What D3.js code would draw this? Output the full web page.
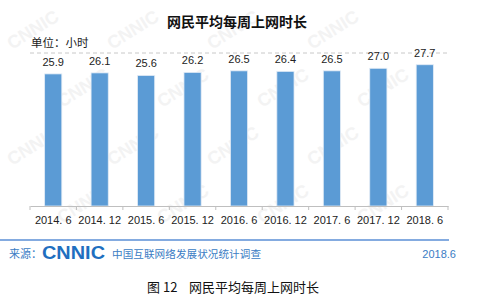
<!DOCTYPE html>
<html>
<head>
<meta charset="utf-8">
<script src="https://cdn.jsdelivr.net/npm/d3@7"></script>
<style>
  body { margin: 0; background: #fff; }
  svg { display: block; }
</style>
</head>
<body>
<svg width="479" height="296"></svg>
<script>
// data
var periods = ["2014. 6", "2014. 12", "2015. 6", "2015. 12", "2016. 6", "2016. 12", "2017. 6", "2017. 12", "2018. 6"];
var hours = [25.9, 26.1, 25.6, 26.2, 26.5, 26.4, 26.5, 27.0, 27.7];
var yMax = 30;

var svg = d3.select("svg");
var plotLeft = 30, plotRight = 448, plotTop = 53, plotBottom = 206;

// faint watermark, only where it fits inside the picture
var wm = svg.append("g");
for (var r = 0; r < 5; r++) {
    for (var c = 0; c < 5; c++) {
        var wx = c * 100 + (r % 2) * 50 + 12, wy = r * 58 + 50;
        if (wx > 400 || wy > 275) continue;
        wm.append("text")
            .attr("transform", "translate(" + wx + "," + wy + ") rotate(-32)")
            .attr("font-family", "Liberation Sans, Arial, sans-serif")
            .attr("font-weight", "bold")
            .attr("font-size", 18)
            .attr("fill", "#f3f3f3")
            .text("CNNIC");
    }
}

svg.append("text")
    .attr("x", 237).attr("y", 27)
    .attr("text-anchor", "middle")
    .attr("font-family", "Noto Sans CJK SC, sans-serif")
    .attr("font-weight", "bold")
    .attr("font-size", 14)
    .attr("fill", "#111")
    .text("网民平均每周上网时长");

svg.append("text")
    .attr("x", 31).attr("y", 47)
    .attr("font-family", "Noto Sans CJK SC, sans-serif")
    .attr("font-size", 11.5)
    .attr("fill", "#222")
    .text("单位：小时");

var x = d3.scaleBand().domain(periods).range([plotLeft, plotRight]).padding(0);
var y = d3.scaleLinear().domain([0, yMax]).range([plotBottom, plotTop]);

// top dashed grid line
svg.append("line")
    .attr("x1", plotLeft).attr("x2", plotRight)
    .attr("y1", y(yMax)).attr("y2", y(yMax))
    .attr("stroke", "#c8c8c8")
    .attr("stroke-dasharray", "4,3");

var bw = x.bandwidth() * 0.37;

var data = periods.map(function(p, i) { return {period: p, val: hours[i]}; });

svg.selectAll(".bar")
    .data(data)
    .enter()
    .append("rect")
    .attr("class", "bar")
    .attr("x", (d) => x(d.period) + (x.bandwidth() - bw) / 2)
    .attr("y", (d) => y(d.val))
    .attr("width", bw)
    .attr("height", (d) => plotBottom - y(d.val))
    .attr("fill", "#5b9bd5")
    .attr("stroke", "#e3ecf6")
    .attr("stroke-width", 0.8);

svg.selectAll(".lbl")
    .data(data)
    .enter()
    .append("text")
    .attr("class", "lbl")
    .attr("x", (d) => x(d.period) + x.bandwidth() / 2)
    .attr("y", (d) => y(d.val) - 8)
    .attr("text-anchor", "middle")
    .attr("font-family", "Liberation Sans, Arial, sans-serif")
    .attr("font-size", 11)
    .attr("fill", "#222")
    .text((d) => d.val.toFixed(1));

// x axis
var ax = svg.append("g")
    .attr("transform", "translate(0," + plotBottom + ")")
    .call(d3.axisBottom(x).tickSize(0).tickPadding(10));
ax.select(".domain").attr("stroke", "#bfbfbf");
ax.selectAll("text")
    .attr("font-family", "Liberation Sans, Arial, sans-serif")
    .attr("font-size", 11)
    .attr("fill", "#222");
svg.append("g").selectAll("line")
    .data(d3.range(periods.length + 1))
    .enter()
    .append("line")
    .attr("x1", (i) => plotLeft + i * x.step())
    .attr("x2", (i) => plotLeft + i * x.step())
    .attr("y1", plotBottom).attr("y2", plotBottom + 4)
    .attr("stroke", "#bfbfbf");

// footer
svg.append("line")
    .attr("x1", 0).attr("x2", 449)
    .attr("y1", 240).attr("y2", 240)
    .attr("stroke", "#5b8fd6")
    .attr("stroke-width", 1.5);

svg.append("text")
    .attr("x", 9).attr("y", 258)
    .attr("font-family", "Noto Sans CJK SC, sans-serif")
    .attr("font-size", 11)
    .attr("fill", "#3a7cc4")
    .text("来源：");

svg.append("text")
    .attr("x", 42).attr("y", 259)
    .attr("font-family", "Liberation Sans, Arial, sans-serif")
    .attr("font-weight", "bold")
    .attr("font-size", 19)
    .attr("textLength", 63)
    .attr("lengthAdjust", "spacingAndGlyphs")
    .attr("fill", "#1f6fc0")
    .text("CNNIC");

svg.append("text")
    .attr("x", 112).attr("y", 258)
    .attr("font-family", "Noto Sans CJK SC, sans-serif")
    .attr("font-size", 10.6)
    .attr("textLength", 149)
    .attr("fill", "#3a7cc4")
    .text("中国互联网络发展状况统计调查");

svg.append("text")
    .attr("x", 456).attr("y", 258)
    .attr("text-anchor", "end")
    .attr("font-family", "Liberation Sans, Arial, sans-serif")
    .attr("font-size", 11)
    .attr("fill", "#3a7cc4")
    .text("2018.6");

svg.append("text")
    .attr("x", 147).attr("y", 292)
    .attr("font-family", "Noto Sans CJK SC, sans-serif")
    .attr("font-size", 13)
    .attr("fill", "#111")
    .attr("xml:space", "preserve")
    .text("图 12    网民平均每周上网时长");
</script>
</body>
</html>
